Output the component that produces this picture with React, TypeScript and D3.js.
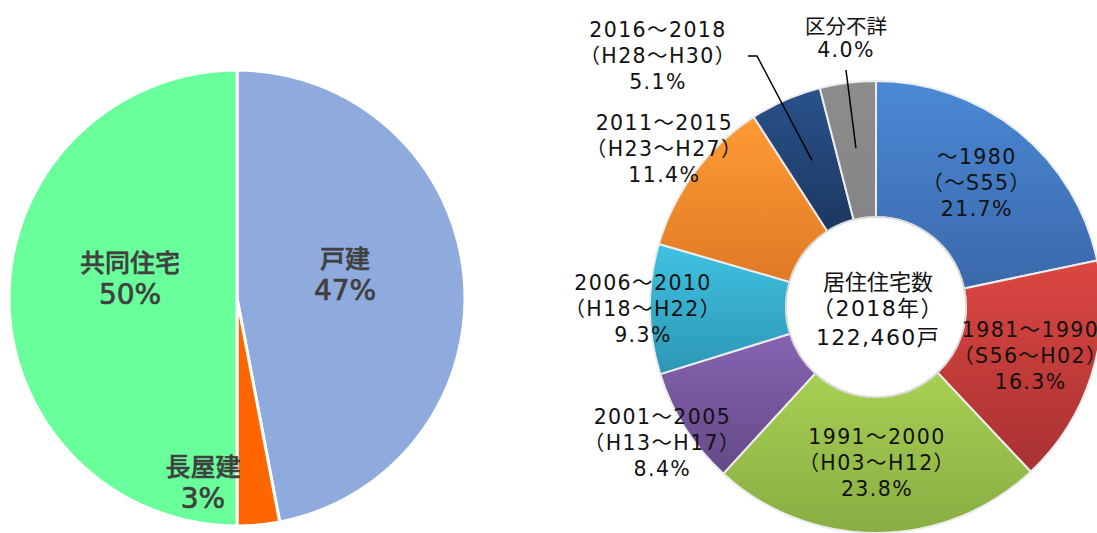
import React from "react";
import * as d3 from "d3";

// ---------- data: left pie ----------
const typeNames = ["戸建", "長屋建", "共同住宅"];
const typeShares = [47, 3, 50];
const typeColors = ["#8faadc", "#ff6600", "#69ff9b"];

// ---------- data: right donut ----------
const periodNames = ["～1980", "1981～1990", "1991～2000", "2001～2005", "2006～2010", "2011～2015", "2016～2018", "区分不詳"];
const eraNames = ["（～S55）", "（S56～H02）", "（H03～H12）", "（H13～H17）", "（H18～H22）", "（H23～H27）", "（H28～H30）", ""];
const periodShares = [21.7, 16.3, 23.8, 8.4, 9.3, 11.4, 5.1, 4.0];
const periodLight = ["#4b89d6", "#dc4742", "#a6d052", "#8763b1", "#40c2e2", "#ff9b34", "#2a528c", "#8c8c8c"];
const periodDark = ["#3a68aa", "#a83131", "#89ad43", "#644a87", "#2d96b4", "#df7a25", "#1b375f", "#858585"];
const centerLines = ["居住住宅数", "（2018年）", "122,460戸"];

// ---------- layout ----------
const W = 1097, H = 533;
const pieC = { x: 237, y: 298, r: 228 };
const pieLabelPos = [
  { x: 345, y: 257 },
  { x: 203, y: 465 },
  { x: 130, y: 261 },
];
const donutC = { x: 876, y: 307, r0: 90, r1: 226 };
const donutLabelMode = [
  { mode: "in", r: 160 },
  { mode: "in", r: 162 },
  { mode: "in", r: 156 },
  { mode: "out", r: 253 },
  { mode: "out", r: 233 },
  { mode: "out", r: 264 },
  { mode: "lead", x: 658, y: 30, lx: 748, ly: 56, kx: 757 },
  { mode: "lead", x: 846, y: 25, lx: 846, ly: 70, kx: 846 },
];

export default function App() {
  const pie = d3.pie<number>().sort(null).startAngle(0).endAngle(2 * Math.PI);

  const leftArcs = pie(typeShares);
  const leftArc = d3.arc<d3.PieArcDatum<number>>().innerRadius(0).outerRadius(pieC.r);

  const rightArcs = pie(periodShares);
  const rightArc = d3.arc<d3.PieArcDatum<number>>().innerRadius(donutC.r0).outerRadius(donutC.r1);

  const latin = "'DejaVu Sans', 'Noto Sans CJK JP', sans-serif";
  const cjk = "'Noto Sans CJK JP', sans-serif";
  const lh = 26;

  const polar = (ang: number, r: number) => [Math.sin(ang) * r, -Math.cos(ang) * r];

  return (
    <svg width={W} height={H} style={{ position: "absolute", left: 0, top: 0, background: "#fff" }}>
      <defs>
        {periodShares.map((_, i) => (
          <linearGradient key={i} id={`g${i}`} x1="0" y1="0" x2="0" y2="1">
            <stop offset="0" stopColor={periodLight[i]} />
            <stop offset="1" stopColor={periodDark[i]} />
          </linearGradient>
        ))}
      </defs>

      {/* left pie */}
      <g transform={`translate(${pieC.x},${pieC.y})`}>
        {leftArcs.map((a, i) => (
          <path key={i} d={leftArc(a) || ""} fill={typeColors[i]} stroke="#fff" strokeWidth={3} strokeLinejoin="round" />
        ))}
      </g>
      {leftArcs.map((a, i) => (
        <text key={i} fill="#404040" stroke="#404040" textAnchor="middle">
          <tspan x={pieLabelPos[i].x} y={pieLabelPos[i].y} dominantBaseline="central" fontFamily={cjk} fontWeight={500} fontSize={25} strokeWidth={0.5}>
            {typeNames[i]}
          </tspan>
          <tspan x={pieLabelPos[i].x} y={pieLabelPos[i].y + 33} dominantBaseline="central" fontFamily={latin} fontSize={28} strokeWidth={0.7}>
            {`${typeShares[i]}%`}
          </tspan>
        </text>
      ))}

      {/* right donut */}
      <g transform={`translate(${donutC.x},${donutC.y})`}>
        {rightArcs.map((a, i) => (
          <path key={i} d={rightArc(a) || ""} fill={`url(#g${i})`} stroke="#ececec" strokeWidth={2} strokeLinejoin="round" />
        ))}
        <circle r={donutC.r0} fill="#fff" stroke="#d6d6d6" strokeWidth={1.5} />
      </g>

      {/* center text */}
      <g fontSize={22} fill="#111" textAnchor="middle">
        {centerLines.map((t, i) => (
          <text key={i} x={donutC.x + 2} y={280 + i * 28.5} dominantBaseline="central" letterSpacing={i === 0 ? 0 : 1.4}
            fontFamily={i === 0 ? cjk : latin}>
            {t}
          </text>
        ))}
      </g>

      {/* donut labels */}
      {rightArcs.map((a, i) => {
        const m = donutLabelMode[i] as any;
        const mid = (a.startAngle + a.endAngle) / 2;
        let x: number, y: number;
        const lines = [periodNames[i], eraNames[i], `${periodShares[i].toFixed(1)}%`].filter((s) => s !== "");
        let leader: React.ReactNode = null;
        if (m.mode === "lead") {
          x = m.x;
          y = m.y;
          const [ex, ey] = polar(mid, 160);
          const pts: [number, number][] = [
            [m.lx, m.ly],
            [m.kx, m.ly],
            [donutC.x + ex, donutC.y + ey],
          ];
          leader = <path d={d3.line()(pts) || ""} fill="none" stroke="#000" strokeWidth={1.5} />;
        } else {
          const [px, py] = polar(mid, m.r);
          x = donutC.x + px;
          y = donutC.y + py - lh;
        }
        return (
          <g key={i}>
            {leader}
            <text fontSize={20.5} fill="#111" textAnchor="middle">
              {lines.map((t, j) => (
                <tspan key={j} x={x} y={y + j * (i === 7 ? 25 : lh)} dominantBaseline="central"
                  fontFamily={t === "区分不詳" ? cjk : latin} letterSpacing={t === "区分不詳" ? 0 : 1.4}>
                  {t}
                </tspan>
              ))}
            </text>
          </g>
        );
      })}
    </svg>
  );
}
